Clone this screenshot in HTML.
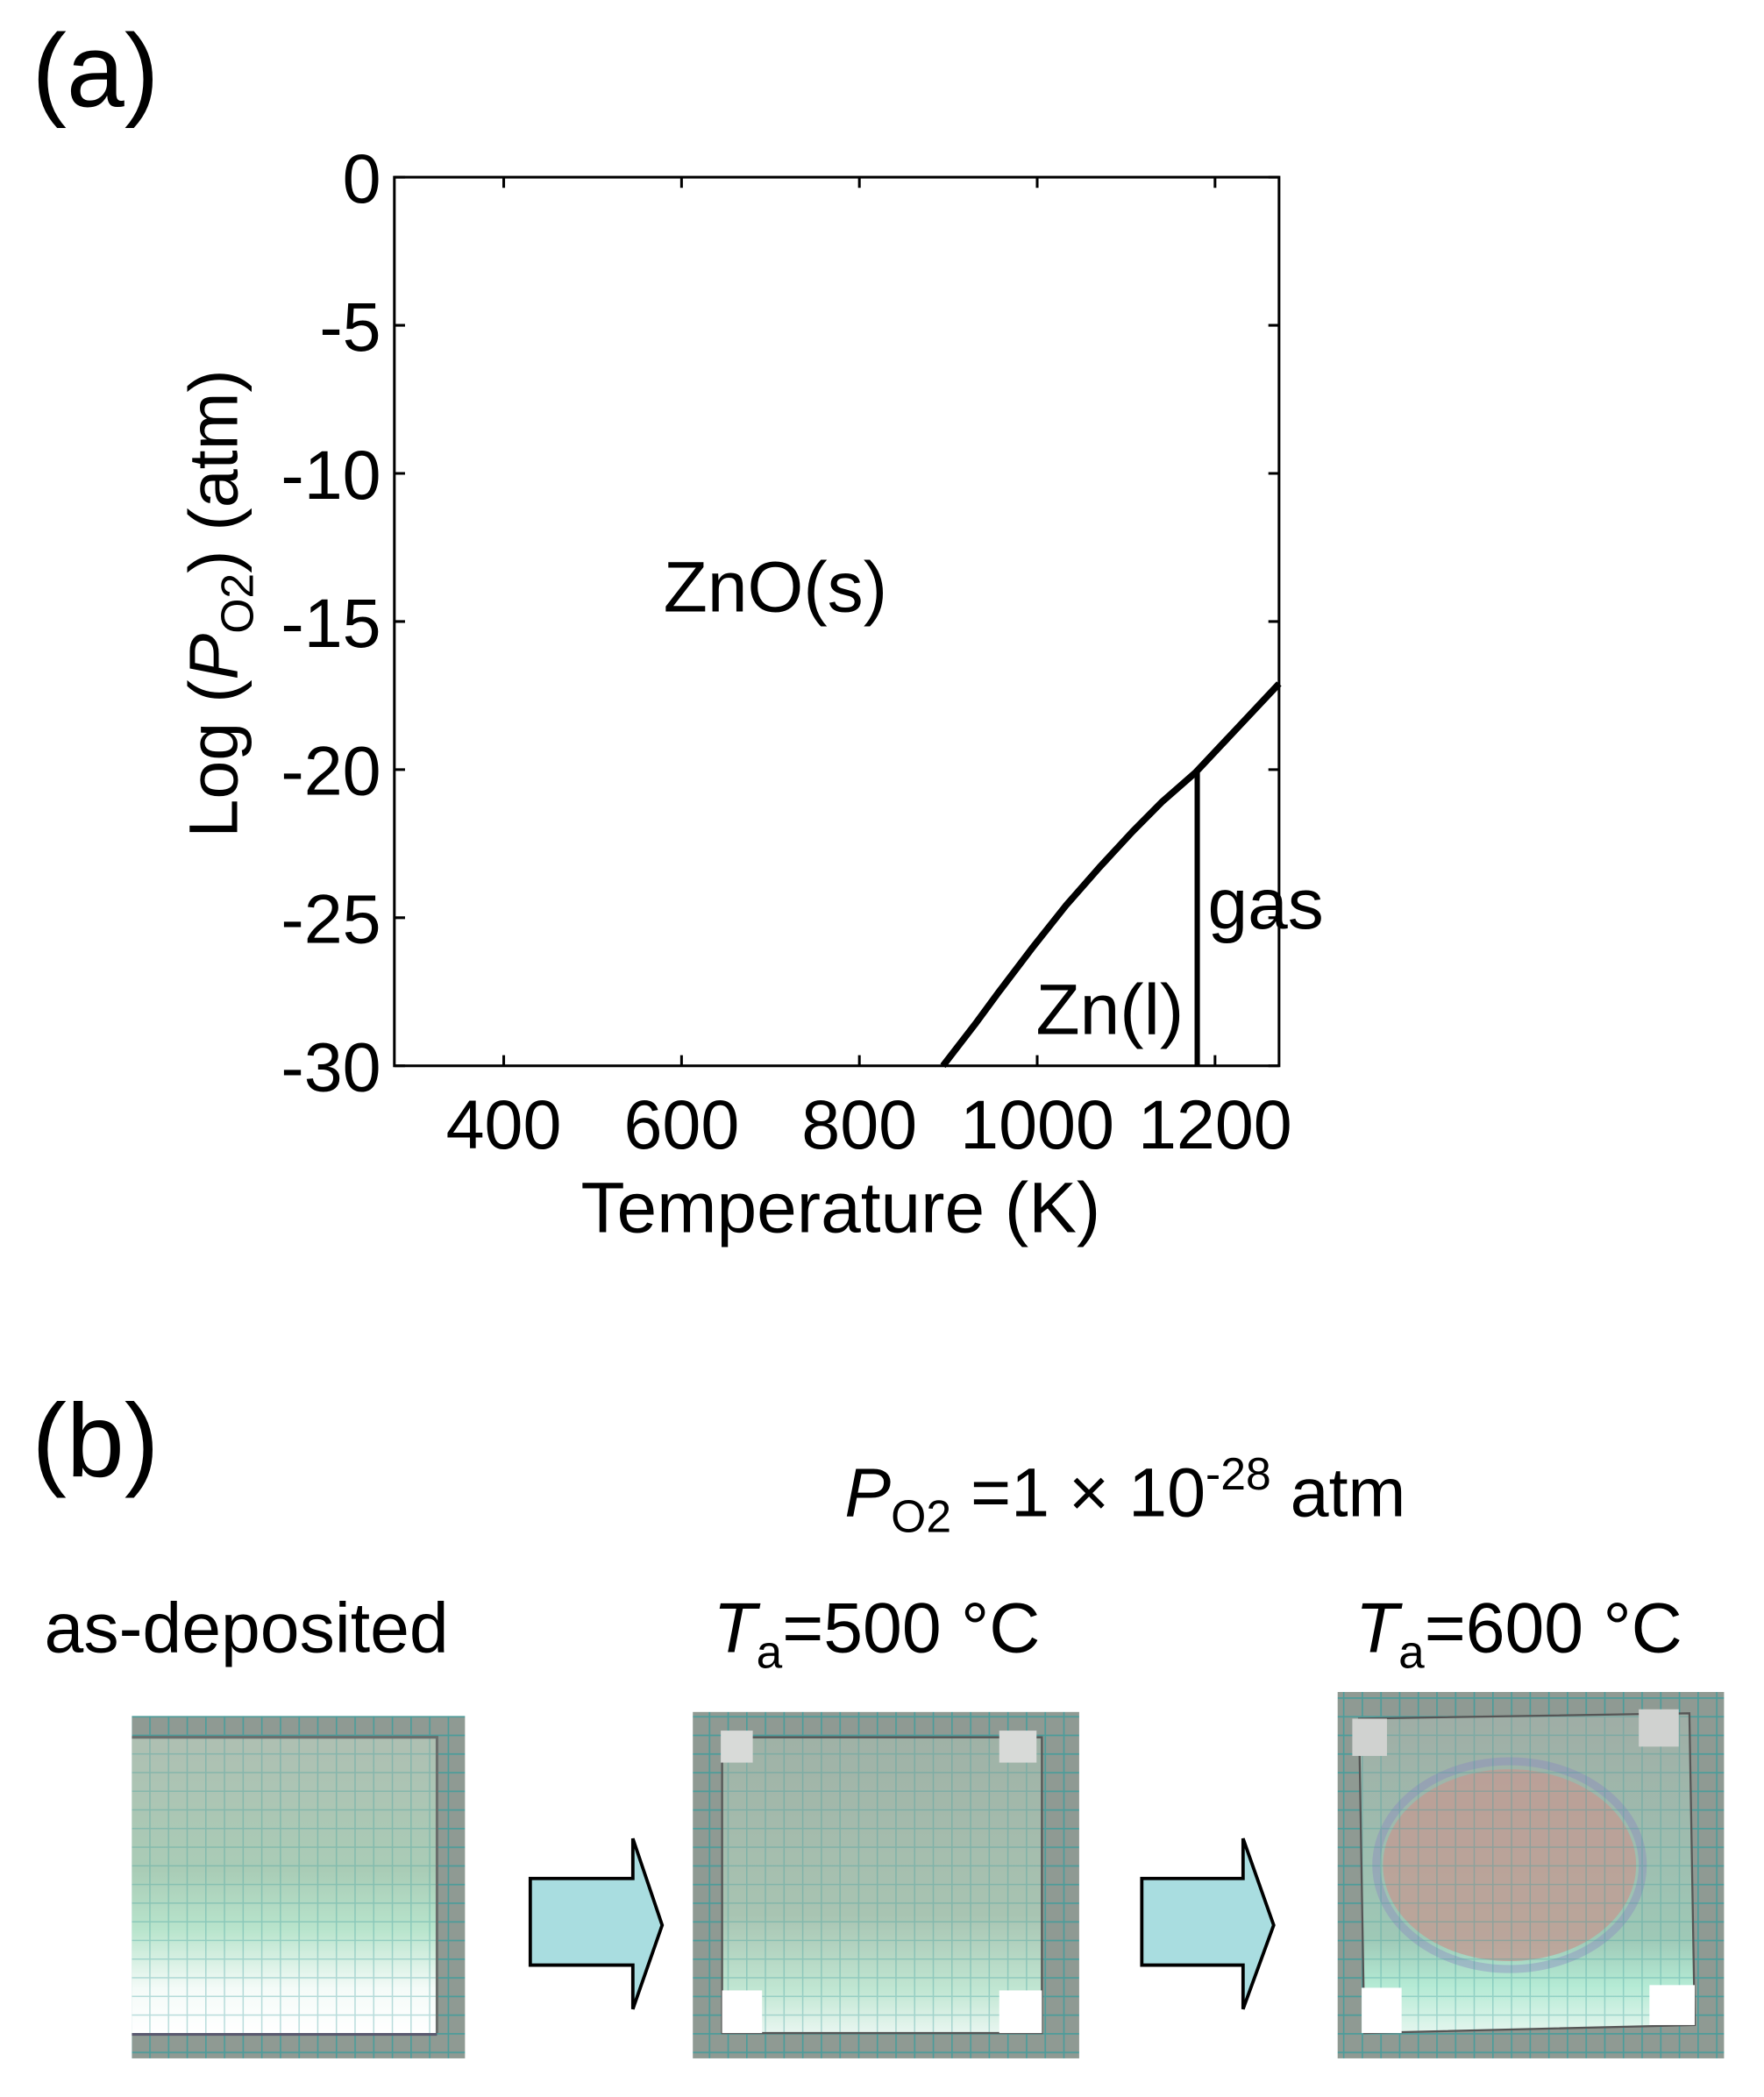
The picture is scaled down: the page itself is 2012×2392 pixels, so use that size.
<!DOCTYPE html>
<html><head><meta charset="utf-8">
<style>
html,body{margin:0;padding:0;background:#fff;}
svg{display:block;}
text{font-family:"Liberation Sans",Arial,sans-serif;fill:#000;}
</style></head>
<body>
<svg id="fig" width="2012" height="2392" viewBox="0 0 1324 1574" preserveAspectRatio="none" xmlns="http://www.w3.org/2000/svg">
<defs>
  <pattern id="grid" width="14" height="14" patternUnits="userSpaceOnUse">
    <rect width="14" height="14" fill="#8f9a93"/>
    <path d="M0 0.5H14M0.5 0V14" stroke="#3a9c9c" stroke-width="1.2" opacity="0.8"/>
  </pattern>
  <pattern id="gridlight" width="14" height="14" patternUnits="userSpaceOnUse">
    <path d="M0 0.5H14M0.5 0V14" stroke="#3a9c9c" stroke-width="1" opacity="0.35"/>
  </pattern>
  <linearGradient id="g1" x1="0" y1="0" x2="0" y2="1">
    <stop offset="0" stop-color="#aebfb2"/>
    <stop offset="0.45" stop-color="#a9ccb6"/>
    <stop offset="0.65" stop-color="#b8e4cc"/>
    <stop offset="0.85" stop-color="#f4fbf8"/>
    <stop offset="1" stop-color="#ffffff"/>
  </linearGradient>
  <linearGradient id="g2" x1="0" y1="0" x2="0" y2="1">
    <stop offset="0" stop-color="#9fb1a6"/>
    <stop offset="0.6" stop-color="#a8c4b2"/>
    <stop offset="0.85" stop-color="#c0e6d2"/>
    <stop offset="1" stop-color="#e8f6f0"/>
  </linearGradient>
  <linearGradient id="g3" x1="0" y1="0" x2="0" y2="1">
    <stop offset="0" stop-color="#9fada5"/>
    <stop offset="0.7" stop-color="#9ec8b6"/>
    <stop offset="0.85" stop-color="#b4ead4"/>
    <stop offset="1" stop-color="#e4f6ee"/>
  </linearGradient>
</defs>

<text x="24" y="80" font-size="78">(a)</text>
<g id="chart"></g>

<text x="24" y="1108" font-size="78">(b)</text>
<text x="634" y="1138" font-size="52"><tspan font-style="italic">P</tspan><tspan font-size="34" dy="12">O2</tspan><tspan dy="-12"> =1 × 10</tspan><tspan font-size="34" dy="-20">-28</tspan><tspan dy="20"> atm</tspan></text>

<text x="185" y="1240" font-size="53" text-anchor="middle">as-deposited</text>
<text x="658" y="1240" font-size="53" text-anchor="middle"><tspan font-style="italic">T</tspan><tspan font-size="35" dy="12">a</tspan><tspan dy="-12">=500 °C</tspan></text>
<text x="1140" y="1240" font-size="53" text-anchor="middle"><tspan font-style="italic">T</tspan><tspan font-size="35" dy="12">a</tspan><tspan dy="-12">=600 °C</tspan></text>

<g>
  <rect x="99" y="1288" width="250" height="257" fill="url(#grid)"/>
  <rect x="99" y="1304" width="229" height="222" fill="url(#g1)"/>
  <rect x="99" y="1304" width="229" height="222" fill="url(#gridlight)"/>
  <path d="M99 1304H328V1526" stroke="#6a6e6c" stroke-width="2" fill="none"/>
  <path d="M99 1527H328" stroke="#5a5a70" stroke-width="2"/>
</g>
<g>
  <rect x="520" y="1285" width="290" height="260" fill="url(#grid)"/>
  <rect x="542" y="1304" width="240" height="222" fill="url(#g2)"/>
  <rect x="542" y="1304" width="240" height="222" fill="url(#gridlight)"/>
  <path d="M542 1304H782V1526H542Z" stroke="#555" stroke-width="1.5" fill="none"/>
  <rect x="541" y="1299" width="24" height="24" fill="#d8dad8"/>
  <rect x="750" y="1299" width="28" height="24" fill="#d8dad8"/>
  <rect x="542" y="1494" width="30" height="32" fill="#fff"/>
  <rect x="750" y="1494" width="32" height="32" fill="#fff"/>
</g>
<g>
  <rect x="1004" y="1270" width="290" height="275" fill="url(#grid)"/>
  <path d="M1020 1290L1268 1286L1272 1520L1024 1526Z" fill="url(#g3)"/>
  <ellipse cx="1133" cy="1400" rx="95" ry="72" fill="#c39a92" opacity="0.75"/>
  <ellipse cx="1133" cy="1400" rx="100" ry="78" fill="none" stroke="#8a86c0" stroke-width="6" opacity="0.4"/>
  <path d="M1020 1290L1268 1286L1272 1520L1024 1526Z" fill="url(#gridlight)"/>
  <path d="M1020 1290L1268 1286L1272 1520L1024 1526Z" stroke="#555" stroke-width="1.5" fill="none"/>
  <rect x="1015" y="1290" width="26" height="28" fill="#d0d2d0"/>
  <rect x="1230" y="1283" width="30" height="28" fill="#d0d2d0"/>
  <rect x="1022" y="1492" width="30" height="34" fill="#fff"/>
  <rect x="1238" y="1490" width="34" height="30" fill="#fff"/>
</g>

<path d="M398 1410H475V1380L497 1445L475 1508V1475H398Z" fill="#a9dde0" stroke="#000" stroke-width="2.5"/>
<path d="M857 1410H933V1380L956 1445L933 1508V1475H857Z" fill="#a9dde0" stroke="#000" stroke-width="2.5"/>
</svg>

<script>
// Chart data
const xTicks = [400, 600, 800, 1000, 1200];
const yTicks = [0, -5, -10, -15, -20, -25, -30];
const boundaryT = [894, 930, 957, 995, 1032, 1070, 1107, 1140, 1178, 1225, 1272];
const boundaryLogP = [-30, -28.6, -27.5, -26.0, -24.6, -23.3, -22.1, -21.1, -20.1, -18.6, -17.1];
const znBoilT = [1180];
const xDomain = [277, 1272];
const yDomain = [-30, 0];

const NS = "http://www.w3.org/2000/svg";
const L = 296, R = 960, T = 133, B = 800;
const xs = v => L + (v - xDomain[0]) / (xDomain[1] - xDomain[0]) * (R - L);
const ys = v => B - (v - yDomain[0]) / (yDomain[1] - yDomain[0]) * (B - T);
const g = document.getElementById('chart');
function mk(tag, attrs, txt) {
  const e = document.createElementNS(NS, tag);
  for (const k in attrs) e.setAttribute(k, attrs[k]);
  if (txt !== undefined) e.textContent = txt;
  g.appendChild(e);
  return e;
}
let e;
e = mk('rect', {x: L, y: T, width: R - L, height: B - T, fill: 'none', stroke: '#000', 'stroke-width': 2});


xTicks.forEach(v => {
  const x = xs(v);
  e = mk('path', {d: `M${x} ${B}V${B - 8}M${x} ${T}V${T + 8}`, stroke: '#000', 'stroke-width': 2});
  
  
  e = mk('text', {x: x, y: B + 62, 'font-size': 52, 'text-anchor': 'middle'}, String(v));
  
  
});
yTicks.forEach(v => {
  const y = ys(v);
  e = mk('path', {d: `M${L} ${y}H${L + 8}M${R} ${y}H${R - 8}`, stroke: '#000', 'stroke-width': 2});
  
  
  e = mk('text', {x: L - 10, y: y + 19, 'font-size': 52, 'text-anchor': 'end'}, String(v));
  
  
});
let d = boundaryT.map((t, i) => (i ? 'L' : 'M') + xs(t) + ' ' + ys(boundaryLogP[i])).join('');
e = mk('path', {d: d, fill: 'none', stroke: '#000', 'stroke-width': 5, 'stroke-linejoin': 'round'});


function interp(t) {
  for (let i = 1; i < boundaryT.length; i++) {
    if (t <= boundaryT[i]) {
      const f = (t - boundaryT[i - 1]) / (boundaryT[i] - boundaryT[i - 1]);
      return boundaryLogP[i - 1] + f * (boundaryLogP[i] - boundaryLogP[i - 1]);
    }
  }
  return boundaryLogP[boundaryLogP.length - 1];
}
znBoilT.forEach(t => {
  e = mk('path', {d: `M${xs(t)} ${ys(interp(t))}V${B}`, stroke: '#000', 'stroke-width': 4});
  
  
});
e = mk('text', {x: 582, y: 459, 'font-size': 54, 'text-anchor': 'middle'}, 'ZnO(s)');


e = mk('text', {x: 950, y: 697, 'font-size': 54, 'text-anchor': 'middle'}, 'gas');


e = mk('text', {x: 833, y: 776, 'font-size': 54, 'text-anchor': 'middle'}, 'Zn(l)');


e = mk('text', {x: 631, y: 925, 'font-size': 54, 'text-anchor': 'middle'}, 'Temperature (K)');


e = mk('text', {x: 0, y: 0, 'font-size': 52, 'text-anchor': 'middle', transform: 'translate(178 453) rotate(-90)'});


e.innerHTML = 'Log (<tspan font-style="italic">P</tspan><tspan font-size="34" dy="12">O2</tspan><tspan dy="-12">) (atm)</tspan>';
</script>
</body></html>
